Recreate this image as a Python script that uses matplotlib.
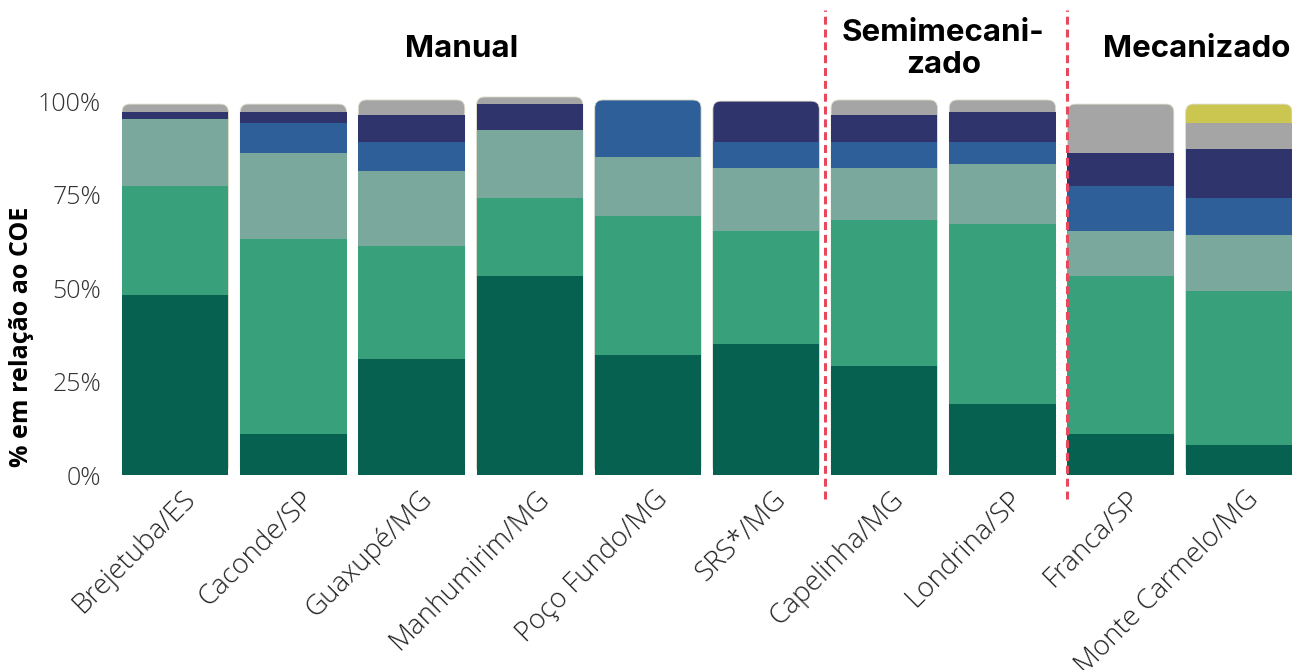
import matplotlib
matplotlib.use('Agg')
import matplotlib.pyplot as plt
import matplotlib.transforms as mtransforms
from matplotlib.patches import FancyBboxPatch
import numpy as np

# Data (% of COE)
locais = ['Brejetuba/ES', 'Caconde/SP', 'Guaxupé/MG', 'Manhumirim/MG', 'Poço Fundo/MG',
          'SRS*/MG', 'Capelinha/MG', 'Londrina/SP', 'Franca/SP', 'Monte Carmelo/MG']
seg_darkgreen = [48.1, 11.0, 31.0, 53.2, 32.1, 35.0, 29.1, 19.0, 11.0, 8.0]
seg_green = [29.2, 52.1, 30.2, 20.9, 37.2, 30.2, 39.1, 48.1, 42.2, 41.2]
seg_sage = [17.9, 23.0, 20.1, 18.1, 15.7, 16.9, 13.9, 16.1, 12.0, 15.0]
seg_blue = [0.0, 8.0, 7.7, 0.0, 15.3, 6.9, 6.9, 5.8, 12.1, 9.9]
seg_navy = [1.9, 3.0, 7.3, 7.0, 0.0, 11.0, 7.3, 8.1, 8.8, 13.1]
seg_gray = [2.1, 2.1, 4.0, 1.9, 0.0, 0.0, 4.0, 3.2, 13.1, 6.9]
seg_yellow = [0.0, 0.0, 0.0, 0.0, 0.0, 0.0, 0.0, 0.0, 0.0, 5.1]
grupos = ['Manual', 'Semimecani-\nzado', 'Mecanizado']
grupos_x = [2.42, 6.5, 8.64]
divisoes = [5.5, 7.55]
yticks = [0, 25, 50, 75, 100]

series = [seg_darkgreen, seg_green, seg_sage, seg_blue, seg_navy, seg_gray, seg_yellow]
cores = ['#066150', '#38a07a', '#7aa89c', '#2e5f98', '#30346c', '#a5a5a5', '#cbc650']

fig = plt.figure(figsize=(12.92, 6.70), dpi=100)
ax = fig.add_axes([122 / 1292, 0.291, 1 - 122 / 1292, 0.586])
ax.set_xlim(-0.45, 9.45)
ax.set_ylim(0, 105)

largura = 0.9
x = np.arange(len(locais))
vals = np.array(series)
base = np.vstack([np.zeros(len(locais)), np.cumsum(vals, axis=0)[:-1]])

# px per unit, used for rounded top corners
px_x = 1170 / 9.9
px_y = 392.7 / 105
raio = 8 / px_x

for i in x:
    topo = np.nonzero(vals[:, i])[0].max()
    for k in range(len(series)):
        v = vals[k, i]
        if v <= 0:
            continue
        if k == topo:
            # rounded top segment drawn from 0 so the bottom corners are hidden
            h = base[k, i] + v
            p = FancyBboxPatch((i - largura / 2, 0), largura, h,
                               boxstyle='round,pad=0,rounding_size=%f' % raio,
                               mutation_aspect=px_x / px_y,
                               facecolor=cores[k], edgecolor='#dedbc8',
                               linewidth=0.6, zorder=1)
            ax.add_patch(p)
        else:
            ax.bar(i, v, bottom=base[k, i], width=largura, color=cores[k],
                   linewidth=0, zorder=2)

# separators
for d in divisoes:
    ax.plot([d, d], [-0.06, 1.185], transform=ax.get_xaxis_transform(),
            color='#e8485c', linestyle=(0, (2.6, 1.6)), linewidth=2.2,
            clip_on=False, zorder=3)

# group headers
ax.text(grupos_x[0], 1.085, grupos[0], transform=ax.get_xaxis_transform(),
        ha='center', va='center', fontsize=22.5, fontweight='bold', family='Inter')
ax.text(grupos_x[1], 1.085, grupos[1], transform=ax.get_xaxis_transform(),
        ha='center', va='center', fontsize=22.5, fontweight='bold', family='Inter',
        linespacing=1.15)
ax.text(grupos_x[2], 1.085, grupos[2], transform=ax.get_xaxis_transform(),
        ha='center', va='center', fontsize=22.5, fontweight='bold', family='Inter')

ax.set_yticks(yticks)
ax.set_yticklabels(['%d%%' % t for t in yticks], fontsize=18, color='#333333',
                   family='Open Sans', fontweight='light')
ax.set_xticks(x)
ax.set_xticklabels(locais, rotation=45, ha='right', va='top', rotation_mode='anchor',
                   fontsize=20, color='#222222', family='Open Sans', fontweight='light')
ax.tick_params(axis='x', length=0, pad=6)
ax.tick_params(axis='y', length=0, pad=15)
desloc = mtransforms.ScaledTranslation(6 / 100, -2 / 100, fig.dpi_scale_trans)
for lab in ax.get_xticklabels():
    lab.set_transform(lab.get_transform() + desloc)
for s in ax.spines.values():
    s.set_visible(False)

fig.text(22 / 1292, 1 - 337 / 670, '% em relação ao COE', rotation=90,
         ha='center', va='center', fontsize=18, fontweight='bold', family='Open Sans')

fig.savefig('out.png', dpi=100)
